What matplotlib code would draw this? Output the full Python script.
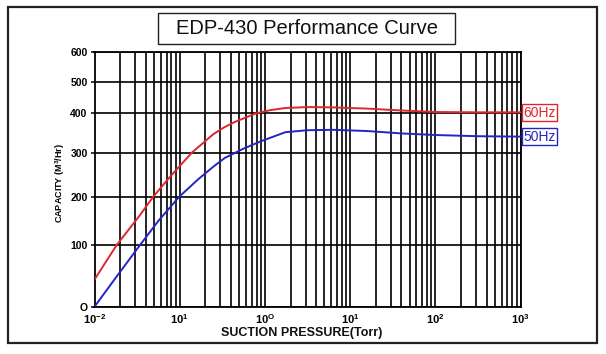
import matplotlib
matplotlib.use('Agg')
import numpy as np
import matplotlib.pyplot as plt
from matplotlib.patches import Rectangle
from matplotlib.ticker import FixedLocator, NullFormatter

plt.rcParams['font.family'] = ['Liberation Sans', 'DejaVu Sans']
plt.rcParams['mathtext.fontset'] = 'custom'
plt.rcParams['mathtext.rm'] = 'Liberation Sans:bold'
plt.rcParams['mathtext.it'] = 'Liberation Sans:bold'
plt.rcParams['mathtext.bf'] = 'Liberation Sans:bold'

# Data (pressure in Torr, capacity in m3/hr)
p_60 = [0.01, 0.0182, 0.0342, 0.049, 0.0769, 0.139, 0.248, 0.331, 0.447, 0.785, 1.15, 1.74,
        3.16, 6.3, 15.8, 39.8, 100, 316, 1000]
cap_60 = [44, 100, 162, 200, 245, 300, 346, 363, 377, 398, 408, 415,
          418, 417, 413, 407, 402, 401, 401]

p_50 = [0.01, 0.0182, 0.0342, 0.0562, 0.0989, 0.166, 0.248, 0.339, 0.562, 0.912, 1.74,
        3.16, 6.3, 15.8, 39.8, 100, 316, 1000]
cap_50 = [0, 49, 100, 150, 200, 240, 268, 288, 310, 329, 351,
          356, 357, 354, 348, 344, 341, 340]

y_ticks = [0, 100, 200, 300, 400, 500, 600]
y_tick_labels = ['O', '100', '200', '300', '400', '500', '600']
x_ticks = [0.01, 0.1, 1, 10, 100, 1000]
x_tick_labels = [r'$10^{-2}$', r'$10^{1}$', r'$10^{O}$', r'$10^{1}$', r'$10^{2}$', r'$10^{3}$']

# the printed chart uses an uneven capacity axis, rebuild it piecewise
y_pos = [0, 0.242, 0.432, 0.605, 0.762, 0.883, 1.0]


def fwd(v):
    return np.interp(v, y_ticks, y_pos)


def inv(v):
    return np.interp(v, y_pos, y_ticks)


red = '#e0262b'
blue = '#2424c4'

fig = plt.figure(figsize=(6.06, 3.54), dpi=100)
W, H = 606, 354

# outer frame and title box
fig.add_artist(Rectangle((8 / W, 1 - 343 / H), 589 / W, 336 / H, transform=fig.transFigure,
                         fill=False, lw=1.6, ec='#222222'))
fig.add_artist(Rectangle((158 / W, 1 - 44 / H), 297 / W, 31 / H, transform=fig.transFigure,
                         fill=False, lw=1.0, ec='#222222'))
fig.text(306.5 / W, 1 - 29 / H, 'EDP-430 Performance Curve', ha='center', va='center',
         fontsize=14.5, color='#111111')

ax = fig.add_axes([94.5 / W, 1 - 306.7 / H, 426 / W, 254.7 / H])
ax.set_xscale('log')
ax.set_yscale('function', functions=(fwd, inv))
ax.set_xlim(0.01, 1000)
ax.set_ylim(0, 600)

ax.plot(p_60, cap_60, color=red, lw=1.4, zorder=3)
ax.plot(p_50, cap_50, color=blue, lw=1.4, zorder=3)

minor_x = [m * 10.0 ** e for e in range(-2, 3) for m in range(2, 10)]
ax.xaxis.set_major_locator(FixedLocator(x_ticks))
ax.xaxis.set_minor_locator(FixedLocator(minor_x))
ax.xaxis.set_minor_formatter(NullFormatter())
ax.set_xticklabels(x_tick_labels)
ax.set_yticks(y_ticks)
ax.set_yticklabels(y_tick_labels, fontweight='bold')
ax.yaxis.set_minor_locator(FixedLocator([]))

ax.grid(True, which='both', axis='x', color='black', lw=1.2)
ax.grid(True, which='major', axis='y', color='black', lw=1.2)
ax.tick_params(axis='x', which='both', length=0, pad=4, labelsize=8)
ax.tick_params(axis='y', length=3, width=1.1, pad=2, labelsize=7.5)
for s in ax.spines.values():
    s.set_linewidth(1.3)

fig.text(302 / W, 1 - 333 / H, 'SUCTION PRESSURE(Torr)', ha='center', va='center',
         fontsize=9, fontweight='bold', color='#111111')
fig.text(60 / W, 1 - 183 / H, r'CAPACITY (M$^3$/Hr)', rotation=90, ha='center', va='center',
         fontsize=6.5, fontweight='bold')

# curve labels on the right
ax.text(1.006, fwd(400), '60Hz', transform=ax.transAxes, color=red, fontsize=10,
        va='center', ha='left', bbox=dict(boxstyle='square,pad=0.1', fc='white', ec=red, lw=1.0))
ax.text(1.006, fwd(340), '50Hz', transform=ax.transAxes, color=blue, fontsize=10,
        va='center', ha='left', bbox=dict(boxstyle='square,pad=0.1', fc='white', ec=blue, lw=1.0))

fig.savefig('out.png', dpi=100)
